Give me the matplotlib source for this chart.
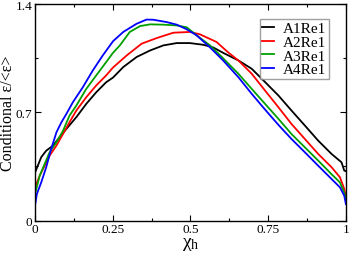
import matplotlib
matplotlib.use("Agg")
import matplotlib.pyplot as plt

plt.rcParams['font.family'] = ['Liberation Serif', 'DejaVu Serif']
plt.rcParams['mathtext.fontset'] = 'custom'
plt.rcParams['mathtext.rm'] = 'Liberation Serif'
plt.rcParams['mathtext.it'] = 'Liberation Serif:italic'

labels = ["A1Re1", "A2Re1", "A3Re1", "A4Re1"]
colors = ["black", "red", "#00a000", "blue"]

x_a1 = [0.0, 0.01, 0.02, 0.036, 0.058, 0.079, 0.101, 0.133, 0.165, 0.197, 0.229, 0.251, 0.284, 0.327, 0.37, 0.413, 0.456, 0.498, 0.541, 0.573, 0.605, 0.654, 0.697, 0.74, 0.783, 0.825, 0.868, 0.911, 0.954, 0.986, 0.995, 1.0]
y_a1 = [0.31, 0.36, 0.41, 0.452, 0.485, 0.539, 0.593, 0.669, 0.755, 0.83, 0.895, 0.925, 0.993, 1.058, 1.10, 1.133, 1.148, 1.148, 1.137, 1.12, 1.085, 1.036, 0.982, 0.896, 0.809, 0.712, 0.615, 0.517, 0.431, 0.377, 0.323, 0.32]

x_a2 = [0.0, 0.015, 0.031, 0.047, 0.069, 0.09, 0.111, 0.133, 0.165, 0.197, 0.229, 0.251, 0.295, 0.343, 0.391, 0.445, 0.498, 0.53, 0.584, 0.62, 0.654, 0.697, 0.74, 0.783, 0.825, 0.868, 0.911, 0.954, 0.981, 0.995, 1.0]
y_a2 = [0.215, 0.29, 0.355, 0.42, 0.485, 0.56, 0.636, 0.712, 0.798, 0.874, 0.939, 0.99, 1.068, 1.144, 1.18, 1.215, 1.22, 1.205, 1.155, 1.09, 1.036, 0.95, 0.841, 0.733, 0.625, 0.528, 0.431, 0.345, 0.28, 0.204, 0.16]

x_a3 = [0.0, 0.015, 0.031, 0.047, 0.069, 0.09, 0.111, 0.133, 0.165, 0.197, 0.229, 0.251, 0.273, 0.305, 0.338, 0.37, 0.413, 0.456, 0.488, 0.52, 0.563, 0.605, 0.654, 0.697, 0.74, 0.783, 0.825, 0.868, 0.911, 0.954, 0.981, 0.995, 1.0]
y_a3 = [0.17, 0.29, 0.366, 0.442, 0.507, 0.58, 0.679, 0.744, 0.852, 0.939, 1.025, 1.085, 1.133, 1.22, 1.258, 1.269, 1.267, 1.262, 1.25, 1.198, 1.133, 1.05, 0.95, 0.852, 0.755, 0.658, 0.56, 0.474, 0.388, 0.30, 0.247, 0.18, 0.14]

x_a4 = [0.0, 0.006, 0.02, 0.036, 0.052, 0.069, 0.085, 0.101, 0.122, 0.154, 0.186, 0.218, 0.251, 0.284, 0.327, 0.359, 0.38, 0.423, 0.456, 0.488, 0.52, 0.563, 0.605, 0.654, 0.697, 0.74, 0.783, 0.825, 0.868, 0.911, 0.954, 0.981, 0.995, 1.0]
y_a4 = [0.096, 0.172, 0.247, 0.345, 0.463, 0.571, 0.636, 0.69, 0.766, 0.863, 0.971, 1.068, 1.16, 1.22, 1.273, 1.30, 1.299, 1.284, 1.267, 1.237, 1.198, 1.12, 1.036, 0.928, 0.82, 0.718, 0.619, 0.528, 0.442, 0.355, 0.269, 0.215, 0.16, 0.107]

xs = [x_a1, x_a2, x_a3, x_a4]
ys = [y_a1, y_a2, y_a3, y_a4]

xticks = [0, 0.25, 0.5, 0.75, 1]
xticklabels = ["0", "0.25", "0.5", "0.75", "1"]
yticks = [0, 0.7, 1.4]
yticklabels = ["0", "0.7", "1.4"]

fig = plt.figure(figsize=(3.49, 2.55), dpi=100)
ax = fig.add_axes([0.1003, 0.131, 0.8907, 0.849])

for x, y, c, l in zip(xs, ys, colors, labels):
    ax.plot(x, y, color=c, lw=1.3, label=l)

ax.set_xlim(0, 1)
ax.set_ylim(0, 1.4)
ax.set_xticks(xticks)
ax.set_xticklabels(xticklabels)
ax.set_yticks(yticks)
ax.set_yticklabels(yticklabels)
ax.set_xticks([0.125, 0.375, 0.625, 0.875], minor=True)
ax.set_yticks([0.35, 1.05], minor=True)
ax.tick_params(which='both', direction='in', top=True, right=True, labelsize=9.5, pad=2)
ax.tick_params(which='major', length=4, width=0.8)
ax.tick_params(which='minor', length=2, width=0.8)
for s in ax.spines.values():
    s.set_linewidth(1.0)

ax.set_ylabel("Conditional ε/<ε>", fontsize=11.5)
ax.yaxis.label.set_verticalalignment('center')
ax.yaxis.set_label_coords(-0.088, 0.5)
ax.set_xlabel(r"$\mathrm{χ}_\mathrm{h}$", fontsize=14)
ax.xaxis.label.set_verticalalignment('top')
ax.xaxis.set_label_coords(0.5, -0.068)

leg = ax.legend(loc='upper right', bbox_to_anchor=(0.945, 0.93), fontsize=11,
                frameon=True, fancybox=False, handlelength=0.8, handletextpad=0.6,
                borderpad=0.15, labelspacing=0.0, borderaxespad=0)
leg.get_frame().set_edgecolor('#888888')
leg.get_frame().set_linewidth(1.0)

fig.savefig("out.png", dpi=100)
